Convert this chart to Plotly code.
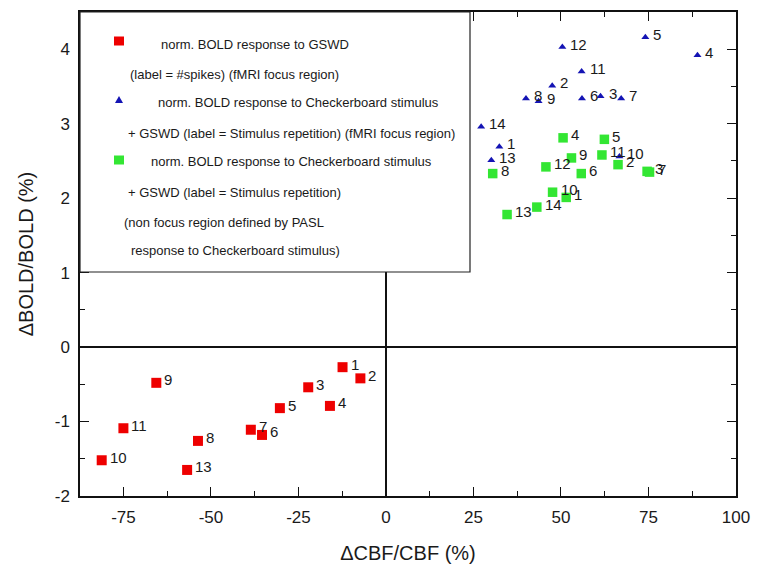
import plotly.graph_objects as go

# ---- data ----
gswd_labels = ["1", "2", "3", "4", "5", "6", "7", "8", "9", "10", "11", "13"]
gswd_cbf = [-12.4, -7.3, -22.2, -16.0, -30.3, -35.4, -38.6, -53.7, -65.6, -81.2, -75.0, -56.8]
gswd_bold = [-0.27, -0.42, -0.54, -0.79, -0.82, -1.18, -1.11, -1.26, -0.48, -1.52, -1.09, -1.65]

cb_focus_labels = ["1", "2", "3", "4", "5", "6", "7", "8", "9", "10", "11", "12", "13", "14"]
cb_focus_cbf = [32.4, 47.5, 61.3, 89.0, 74.1, 56.0, 67.2, 40.0, 43.6, 66.7, 55.9, 50.4, 30.1, 27.2]
cb_focus_bold = [2.69, 3.51, 3.37, 3.92, 4.16, 3.34, 3.34, 3.34, 3.30, 2.56, 3.70, 4.03, 2.51, 2.96]

cb_nonfocus_labels = ["1", "2", "3", "4", "5", "6", "7", "8", "9", "10", "11", "12", "13", "14"]
cb_nonfocus_cbf = [51.5, 66.3, 74.6, 50.6, 62.4, 55.8, 75.3, 30.5, 53.0, 47.6, 61.7, 45.7, 34.6, 43.1]
cb_nonfocus_bold = [2.01, 2.45, 2.36, 2.81, 2.79, 2.33, 2.35, 2.33, 2.54, 2.08, 2.58, 2.42, 1.78, 1.88]

x_tick_vals = [-75, -50, -25, 0, 25, 50, 75, 100]
x_tick_text = ["-75", "-50", "-25", "0", "25", "50", "75", "100"]
y_tick_vals = [-2, -1, 0, 1, 2, 3, 4]
y_tick_text = ["-2", "-1", "0", "1", "2", "3", "4"]

legend_lines = [
    "norm. BOLD response to GSWD",
    "(label = #spikes) (fMRI focus region)",
    "norm. BOLD response to Checkerboard stimulus",
    "+ GSWD (label = Stimulus repetition) (fMRI focus region)",
    "norm. BOLD response to Checkerboard stimulus",
    "+ GSWD (label = Stimulus repetition)",
    "(non focus region defined by PASL",
    "response to Checkerboard stimulus)",
]

# ---- styling ----
FONT = "Liberation Sans, Arial, sans-serif"
RED = "#ee0000"
BLUE = "#1414b4"
GREEN = "#33e633"
TXT = "#1a1a1a"

W, H = 765, 565
PAGE_OFF = 8  # default body margin of the html page
# target plot area in page pixels
PX0, PX1, PY0, PY1 = 80, 736, 12, 496
ML = PX0 - PAGE_OFF
MT = PY0 - PAGE_OFF
MR = W - (PX1 - PAGE_OFF)
MB = H - (PY1 - PAGE_OFF)
PW, PH = PX1 - PX0, PY1 - PY0


def px2paper(px, py):
    return (px - PX0) / PW, (PY1 - py) / PH


fig = go.Figure()

series = [
    (gswd_cbf, gswd_bold, gswd_labels, "square", 10, RED),
    (cb_focus_cbf, cb_focus_bold, cb_focus_labels, "triangle-up", 7, BLUE),
    (cb_nonfocus_cbf, cb_nonfocus_bold, cb_nonfocus_labels, "square", 9.5, GREEN),
]

annotations = []
for xs, ys, labs, sym, size, col in series:
    fig.add_trace(go.Scatter(
        x=xs, y=ys, mode="markers",
        marker=dict(symbol=sym, size=size, color=col, line=dict(width=0)),
        showlegend=False, hoverinfo="skip",
    ))
    for xv, yv, lab in zip(xs, ys, labs):
        annotations.append(dict(
            x=xv, y=yv, xref="x", yref="y", text=lab, showarrow=False,
            xanchor="left", yanchor="middle", xshift=6, yshift=3,
            font=dict(family=FONT, size=15, color=TXT),
        ))

# legend box (drawn manually to mirror the original layout)
lx0, ly0 = px2paper(80, 272)
lx1, ly1 = px2paper(470, 12)
shapes = [dict(type="rect", xref="paper", yref="paper", x0=lx0, y0=ly0, x1=lx1, y1=1,
               line=dict(color="#222", width=1.2), fillcolor="white", layer="above")]

sym_pos = [(119, 41), (119, 100), (119, 160)]
for (sx, sy), (_, _, _, sym, size, col) in zip(sym_pos, series):
    ax, ay = px2paper(sx, sy)
    if sym == "square":
        shapes.append(dict(type="rect", xref="paper", yref="paper",
                           xsizemode="pixel", ysizemode="pixel",
                           xanchor=ax, yanchor=ay, x0=-5, x1=5, y0=-4.5, y1=4.5,
                           fillcolor=col, line=dict(width=0), layer="above"))
    else:
        shapes.append(dict(type="path", xref="paper", yref="paper",
                           xsizemode="pixel", ysizemode="pixel",
                           xanchor=ax, yanchor=ay, path="M -4 -3 L 4 -3 L 0 4 Z",
                           fillcolor=col, line=dict(width=0), layer="above"))

line_pos = [(159, 44), (128, 74), (156, 103), (126, 133), (149, 162), (126, 192), (122, 222), (129, 251)]
for txt, (tx, ty) in zip(legend_lines, line_pos):
    ax, ay = px2paper(tx, ty)
    annotations.append(dict(
        x=ax, y=ay, xref="paper", yref="paper", text=txt, showarrow=False,
        xanchor="left", yanchor="middle",
        font=dict(family=FONT, size=13, color=TXT),
    ))

axis_common = dict(
    showline=True, linecolor="#111", linewidth=1.5, mirror="ticks",
    ticks="inside", ticklen=9, tickwidth=1.3, tickcolor="#111",
    showgrid=False, zeroline=True, zerolinecolor="#111", zerolinewidth=1.5,
    tickfont=dict(family=FONT, size=17, color=TXT),
    automargin=False,
)

fig.update_layout(
    width=W, height=H, autosize=False,
    margin=dict(l=ML, r=MR, t=MT, b=MB),
    paper_bgcolor="white", plot_bgcolor="white",
    xaxis=dict(
        range=[-87.4, 100], tickvals=x_tick_vals, ticktext=x_tick_text,
        minor=dict(ticks="inside", ticklen=5, dtick=12.5, tick0=0, tickcolor="#111", tickwidth=1.2),
        title=dict(text="ΔCBF/CBF (%)", font=dict(family=FONT, size=20, color=TXT), standoff=20),
        ticklabelstandoff=5,
        **axis_common,
    ),
    yaxis=dict(
        range=[-2, 4.5], tickvals=y_tick_vals, ticktext=y_tick_text,
        minor=dict(ticks="inside", ticklen=5, dtick=0.5, tick0=0, tickcolor="#111", tickwidth=1.2),
        title=dict(text="ΔBOLD/BOLD (%)", font=dict(family=FONT, size=20, color=TXT), standoff=16),
        ticklabelstandoff=5,
        **axis_common,
    ),
    shapes=shapes,
    annotations=annotations,
)

fig.write_html("out.html")
